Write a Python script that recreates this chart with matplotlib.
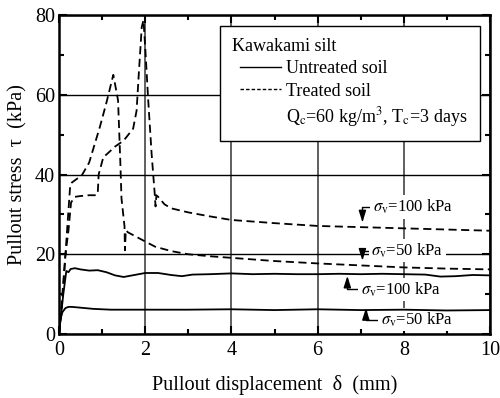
import matplotlib
matplotlib.use("Agg")
import matplotlib.pyplot as plt
from matplotlib.lines import Line2D
from matplotlib.legend_handler import HandlerLine2D
from matplotlib.ticker import MultipleLocator

plt.rcParams['font.family'] = ['Liberation Serif', 'DejaVu Serif']
plt.rcParams['mathtext.fontset'] = 'stix'

# untreated soil, sigma_v = 50 kPa
x_u50 = [0, 0.03, 0.08, 0.15, 0.22, 0.3, 0.5, 0.8, 1.2, 2, 3, 4, 5, 6, 7, 8, 9, 10]
y_u50 = [0, 3.5, 5.5, 6.5, 6.8, 6.8, 6.6, 6.3, 6.1, 6.1, 6.1, 6.2, 6.0, 6.2, 6.0, 6.1, 5.9, 6.0]

# untreated soil, sigma_v = 100 kPa
x_u100 = [0, 0.05, 0.1, 0.17, 0.22, 0.27, 0.37, 0.5, 0.7, 0.9, 1.1, 1.3, 1.5, 1.7, 2.0,
          2.3, 2.6, 2.85, 3.1, 3.5, 4, 4.5, 5, 5.5, 6, 6.5, 7, 7.5, 8, 8.5, 8.85, 9.2, 9.6, 10]
y_u100 = [0, 5, 10, 15.8, 15.5, 16.3, 16.5, 16.2, 15.9, 16.0, 15.5, 14.7, 14.3, 14.7, 15.3,
          15.3, 14.8, 14.5, 14.9, 15.0, 15.2, 15.0, 15.1, 15.0, 15.0, 15.1, 15.0, 15.1, 15.0, 14.9, 14.4, 14.5, 14.8, 14.7]

# treated soil, sigma_v = 50 kPa
x_t50 = [0, 0.05, 0.1, 0.15, 0.2, 0.26, 0.3, 0.53, 0.7, 0.95, 1.1, 1.26, 1.37, 1.42, 1.45,
         1.52, 1.53, 1.55, 1.6, 1.72, 2.0, 2.23, 2.6, 3, 3.5, 4, 5, 6, 7, 8, 9, 10]
y_t50 = [0, 5, 12, 20, 28, 37.3, 38, 39.8, 43, 52, 58, 65, 58.6, 44, 34,
         27, 21, 26, 25.5, 24.8, 23.2, 21.9, 20.8, 20.0, 19.5, 19.1, 18.3, 17.7, 17.2, 16.7, 16.4, 16.2]

# treated soil, sigma_v = 100 kPa
x_t100 = [0, 0.05, 0.1, 0.15, 0.22, 0.28, 0.37, 0.5, 0.7, 0.87, 0.9, 0.92, 1.03, 1.1, 1.3, 1.5,
          1.72, 1.8, 1.85, 1.92, 1.96, 2.0, 2.07, 2.15, 2.22, 2.24, 2.26, 2.3, 2.45, 2.61, 3.0,
          3.5, 4, 5, 6, 7, 8, 9, 10]
y_t100 = [0, 6, 13, 20, 26, 33, 34.4, 34.6, 34.8, 34.8, 35.5, 40, 44.4, 45, 47, 48.5,
          51.5, 56, 65, 77, 78.7, 72, 58.6, 45, 35.3, 32, 34.8, 34.4, 32.5, 31.5, 30.5,
          29.5, 28.6, 27.8, 27.1, 26.8, 26.5, 26.2, 25.9]

fig = plt.figure(figsize=(5, 3.98), dpi=100)
ax = fig.add_axes([0.118, 0.1608, 0.862, 0.8015])

ax.set_axisbelow(True)
ax.xaxis.grid(True, color='#444444', linewidth=1.2)
ax.yaxis.grid(True, color='black', linewidth=1.0)

dash = (4.5, 2.5)
ax.plot(x_u50, y_u50, color='black', linewidth=1.3, zorder=3)
ax.plot(x_u100, y_u100, color='black', linewidth=1.3, zorder=3)
ax.plot(x_t50, y_t50, color='black', linewidth=1.3, dashes=dash, zorder=3)
ax.plot(x_t100, y_t100, color='black', linewidth=1.3, dashes=dash, zorder=3)

ax.set_xlim(0, 10)
ax.set_ylim(0, 80)
ax.xaxis.set_major_locator(MultipleLocator(2))
ax.xaxis.set_minor_locator(MultipleLocator(1))
ax.yaxis.set_major_locator(MultipleLocator(20))
ax.yaxis.set_minor_locator(MultipleLocator(10))
ax.tick_params(which='both', direction='in', top=True, right=True, width=1.5, labelsize=14.5)
ax.tick_params(which='major', length=6)
ax.tick_params(which='minor', length=3.5)
ax.tick_params(axis='x', pad=5)
ax.tick_params(axis='y', pad=3)
for s in ax.spines.values():
    s.set_linewidth(1.8)

ax.set_xlabel('Pullout displacement  δ  (mm)', fontsize=14.6, labelpad=11)
ax.set_ylabel('Pullout stress  τ  (kPa)', fontsize=14.6, labelpad=5)

# labels with bent arrows
arrow = dict(arrowstyle='-|>,head_length=0.7,head_width=0.22', color='black', lw=1.0,
             connectionstyle='angle,angleA=0,angleB=90,rad=0', relpos=(0, 0.5),
             shrinkA=0, shrinkB=0, mutation_scale=10)
box = dict(boxstyle='square,pad=0.15', facecolor='white', edgecolor='none')
notes = [
    (r'$\sigma_{\rm v}$=100 kPa', (7.04, 28.0), (7.28, 31.9)),
    (r'$\sigma_{\rm v}$=50 kPa', (7.04, 18.4), (7.25, 20.9)),
    (r'$\sigma_{\rm v}$=100 kPa', (6.69, 14.6), (7.0, 11.2)),
    (r'$\sigma_{\rm v}$=50 kPa', (7.12, 6.5), (7.47, 3.6)),
]
for txt, tip, pos in notes:
    ax.annotate(txt, xy=tip, xytext=pos, fontsize=12, ha='left', va='center',
                bbox=box, arrowprops=arrow, zorder=2.5)

handles = [Line2D([], [], color='black', linewidth=1.0),
           Line2D([], [], color='black', linewidth=1.0, dashes=(2.5, 1.5)),
           Line2D([], [], color='none')]
labels = ['Untreated soil', 'Treated soil',
          r'Q$_{\rm c}$=60 kg/m$^{3}$, T$_{\rm c}$=3 days']
leg = ax.legend(handles, labels, title='Kawakami silt', alignment='left',
                loc='upper right', bbox_to_anchor=(479.5 / 500, 1 - 26 / 398),
                bbox_transform=fig.transFigure, fontsize=13, title_fontsize=13,
                frameon=True, fancybox=False, framealpha=1, edgecolor='black',
                handlelength=2.75, handletextpad=0.28, labelspacing=0.3,
                borderpad=0.65, borderaxespad=0,
                handler_map={Line2D: HandlerLine2D(xpad=0.45)})
leg.get_frame().set_linewidth(1.0)
leg.set_zorder(6)

fig.savefig('out.png', dpi=100)
